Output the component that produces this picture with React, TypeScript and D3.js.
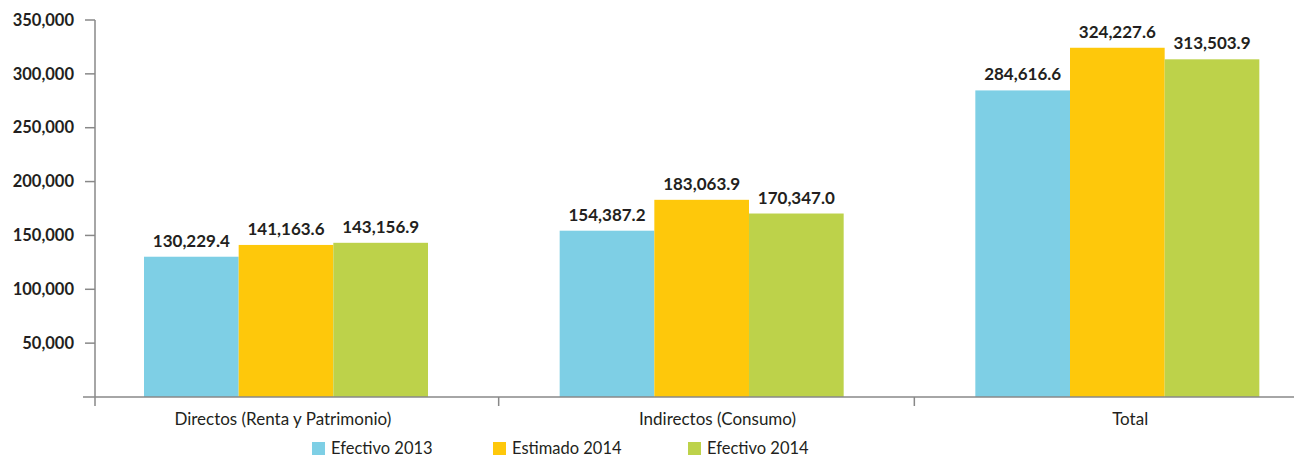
import React from "react";
import * as d3 from "d3";

const categories = ["Directos (Renta y Patrimonio)", "Indirectos (Consumo)", "Total"];
const seriesNames = ["Efectivo 2013", "Estimado 2014", "Efectivo 2014"];
const efectivo2013 = [130229.4, 154387.2, 284616.6];
const estimado2014 = [141163.6, 183063.9, 324227.6];
const efectivo2014 = [143156.9, 170347.0, 313503.9];
const yTicks = [50000, 100000, 150000, 200000, 250000, 300000, 350000];
const colors = ["#7ECFE5", "#FEC80B", "#BDD24A"];

const W = 1294;
const H = 458;
const baseY = 397;
const topY = 20;
const axisX = 95;
const font = "Lato, 'Open Sans', sans-serif";
const textColor = "#231F20";
// layout: small horizontal nudges of category labels from band center
const catLabelNudge = [-8, 11, 8];
const legendX = [312, 493, 688];

export default function App() {
  const series = [efectivo2013, estimado2014, efectivo2014];
  const y = d3.scaleLinear().domain([0, 350000]).range([baseY, topY]);
  const x0 = d3.scaleBand<string>().domain(categories).range([83, 1330]).paddingInner(0).paddingOuter(0);
  const x1 = d3.scaleBand<string>().domain(seriesNames).range([61, 345]).padding(0);
  const fmt = d3.format(",.1f");
  const tickFmt = d3.format(",");
  const bounds = [x0(categories[1])!, x0(categories[2])!];

  return (
    <svg width={W} height={H} style={{ position: "absolute", left: 0, top: 0 }}>
      <rect x={0} y={0} width={W} height={H} fill="#fff" />
      {categories.map((c, ci) => (
        <g key={c}>
          {series.map((s, si) => {
            const bx = x0(c)! + x1(seriesNames[si])!;
            const bw = x1.bandwidth();
            return (
              <g key={si}>
                <rect x={bx} y={y(s[ci])} width={bw} height={baseY - y(s[ci])} fill={colors[si]} />
                <text
                  x={bx + bw / 2}
                  y={y(s[ci]) - 10}
                  textAnchor="middle"
                  fontFamily={font}
                  fontWeight="bold"
                  fontSize={17}
                  fill={textColor}
                >
                  {fmt(s[ci])}
                </text>
              </g>
            );
          })}
          <text
            x={x0(c)! + x0.bandwidth() / 2 + catLabelNudge[ci]}
            y={425}
            textAnchor="middle"
            fontFamily={font}
            fontSize={17}
            fill={textColor}
          >
            {c}
          </text>
        </g>
      ))}
      <line x1={axisX} y1={topY} x2={axisX} y2={406} stroke="#888" strokeWidth={1.5} />
      {yTicks.map((t) => (
        <g key={t}>
          <line x1={85} x2={axisX} y1={y(t)} y2={y(t)} stroke="#888" strokeWidth={1.5} />
          <text
            x={74}
            y={y(t)}
            dy="0.35em"
            textAnchor="end"
            fontFamily={font}
            fontWeight="bold"
            fontSize={16.5}
            fill={textColor}
          >
            {tickFmt(t)}
          </text>
        </g>
      ))}
      <line x1={83} x2={1294} y1={baseY} y2={baseY} stroke="#888" strokeWidth={1.5} />
      {bounds.map((b, i) => (
        <line key={i} x1={b} x2={b} y1={baseY} y2={406} stroke="#888" strokeWidth={1.5} />
      ))}
      {seriesNames.map((n, i) => {
        const lx = legendX[i];
        return (
          <g key={n}>
            <rect x={lx} y={442} width={13} height={13} fill={colors[i]} />
            <text x={lx + 19} y={454} fontFamily={font} fontSize={16.5} fill={textColor}>
              {n}
            </text>
          </g>
        );
      })}
    </svg>
  );
}
